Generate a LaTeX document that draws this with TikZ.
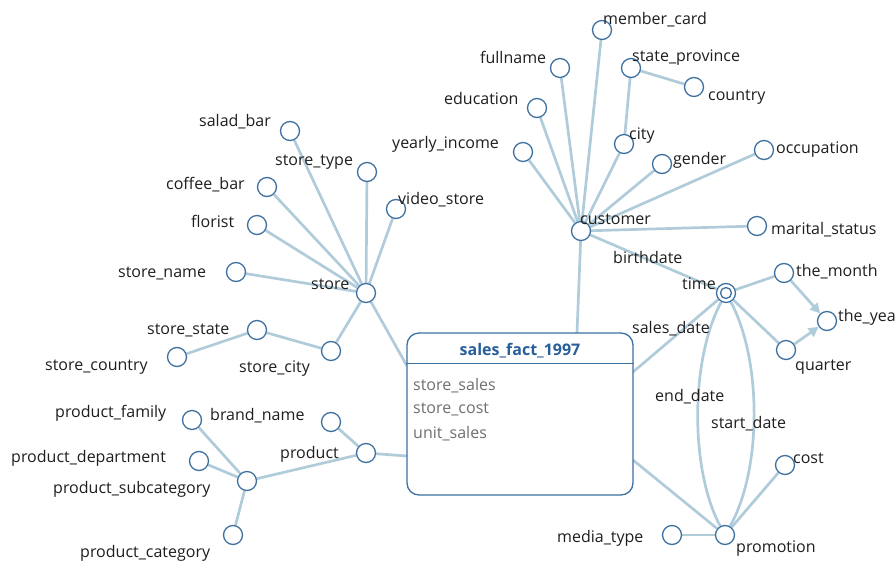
\documentclass[tikz,border=0pt]{standalone}
\usepackage{fontspec}
\setmainfont{Open Sans}
\usetikzlibrary{backgrounds,arrows.meta}

\definecolor{edgec}{RGB}{176,204,218}
\definecolor{nodec}{RGB}{62,112,160}
\definecolor{titlec}{RGB}{40,95,155}
\definecolor{attrc}{RGB}{112,112,112}
\definecolor{txtc}{RGB}{30,30,30}

\tikzset{
  attr/.style={circle, draw=nodec, line width=1.3pt, fill=white, minimum size=19pt, inner sep=0pt},
  lbl/.style={font=\fontsize{16}{18}\selectfont, text=txtc, inner sep=0pt, anchor=west, yshift=-1.5pt},
  fattr/.style={font=\fontsize{16}{18}\selectfont, text=attrc, inner sep=0pt, anchor=west, yshift=-1.5pt},
  link/.style={draw=edgec, line width=2.7pt},
  arrowlink/.style={link, -{Triangle[length=10pt,width=10pt]}},
}

\begin{document}
\begin{tikzpicture}[x=1pt,y=-1pt]
\useasboundingbox (0,0) rectangle (895,565);

% ---- fact table ----
\node[draw=nodec, rounded corners=12pt, line width=1.3pt, fill=white,
      minimum width=226pt, minimum height=162pt, inner sep=0pt] (fact) at (520,414) {};
\draw[nodec, line width=1.1pt] ([yshift=-31pt]fact.north west) -- ([yshift=-31pt]fact.north east);
\node[font=\bfseries\fontsize{16}{18}\selectfont, text=titlec, inner sep=0pt] (ftitle) at (520,351) {sales\_fact\_1997};
\node[fattr] (fa1) at (413,384) {store\_sales};
\node[fattr] (fa2) at (413,408) {store\_cost};
\node[fattr] (fa3) at (413,432) {unit\_sales};

\coordinate (fStore) at (407,366);
\coordinate (fProduct) at (407,456);
\coordinate (fCustomer) at (577,333);
\coordinate (fTime) at (633,372);
\coordinate (fPromo) at (633,460);

% ---- store dimension ----
\node[attr] (store) at (366,293) {};
\node[attr] (saladbar) at (290,131) {};
\node[attr] (storetype) at (367,172) {};
\node[attr] (coffeebar) at (267,187) {};
\node[attr] (videostore) at (396,209) {};
\node[attr] (florist) at (257,225) {};
\node[attr] (storename) at (236,272) {};
\node[attr] (storestate) at (257,330) {};
\node[attr] (storecity) at (331,351) {};
\node[attr] (storecountry) at (177,357) {};

\node[lbl] at (311,283) {store};
\node[lbl] at (199,120) {salad\_bar};
\node[lbl] at (275,161) {store\_type};
\node[lbl] at (166,183) {coffee\_bar};
\node[lbl] at (398,198) {video\_store};
\node[lbl] at (191,220) {florist};
\node[lbl] at (118,272) {store\_name};
\node[lbl] at (147,329) {store\_state};
\node[lbl] at (45,366) {store\_country};
\node[lbl] at (239,367) {store\_city};

% ---- product dimension ----
\node[attr] (product) at (366,453) {};
\node[attr] (brandname) at (331,422) {};
\node[attr] (psub) at (247,481) {};
\node[attr] (pfamily) at (192,420) {};
\node[attr] (pdept) at (199,461) {};
\node[attr] (pcat) at (233,535) {};

\node[lbl] at (280,453) {product};
\node[lbl] at (210,414) {brand\_name};
\node[lbl] at (55,412) {product\_family};
\node[lbl] at (11,457) {product\_department};
\node[lbl] at (53,488) {product\_subcategory};
\node[lbl] at (80,552) {product\_category};

% ---- customer dimension ----
\node[attr] (customer) at (581,231) {};
\node[attr] (membercard) at (602,30) {};
\node[attr] (fullname) at (560,68) {};
\node[attr] (education) at (537,108) {};
\node[attr] (income) at (523,152) {};
\node[attr] (stateprov) at (631,68) {};
\node[attr] (country) at (694,87) {};
\node[attr] (city) at (624,144) {};
\node[attr] (gender) at (662,164) {};
\node[attr] (occupation) at (764,150) {};
\node[attr] (marital) at (757,226) {};

\node[lbl] at (580,218) {customer};
\node[lbl] at (603,18) {member\_card};
\node[lbl] at (480,56) {fullname};
\node[lbl] at (444,97) {education};
\node[lbl] at (392,143) {yearly\_income};
\node[lbl] at (632,56) {state\_province};
\node[lbl] at (708,96) {country};
\node[lbl] at (629,134) {city};
\node[lbl] at (673,159) {gender};
\node[lbl] at (776,148) {occupation};
\node[lbl] at (771,228) {marital\_status};
\node[lbl] at (613,256) {birthdate};

% ---- time dimension ----
\node[attr] (time) at (726,293) {};
\node[circle, draw=nodec, line width=1.3pt, minimum size=11pt, inner sep=0pt] (timein) at (726,293) {};
\node[attr] (month) at (784,273) {};
\node[attr] (year) at (827,321) {};
\node[attr] (quarter) at (786,350) {};

\node[lbl] at (682,282) {time};
\node[lbl] at (796,270) {the\_month};
\node[lbl] at (838,316) {the\_year};
\node[lbl] at (795,366) {quarter};
\node[lbl] at (632,327) {sales\_date};
\node[lbl] at (655,395) {end\_date};
\node[lbl] at (711,422) {start\_date};

% ---- promotion dimension ----
\node[attr] (promotion) at (725,535) {};
\node[attr] (mediatype) at (672,535) {};
\node[attr] (cost) at (785,465) {};

\node[lbl] at (736,547) {promotion};
\node[lbl] at (557,537) {media\_type};
\node[lbl] at (793,457) {cost};

% ---- connectors ----
\begin{scope}[on background layer]
  \foreach \a in {saladbar,storetype,coffeebar,videostore,florist,storename,storecity}
    \draw[link] (store) -- (\a);
  \draw[link] (storecity) -- (storestate);
  \draw[link] (storestate) -- (storecountry);
  \draw[link] (store) -- (fStore);

  \draw[link] (product) -- (brandname);
  \draw[link] (product) -- (psub);
  \foreach \a in {pfamily,pdept,pcat}
    \draw[link] (psub) -- (\a);
  \draw[link] (product) -- (fProduct);

  \foreach \a in {membercard,fullname,education,income,city,gender,occupation,marital}
    \draw[link] (customer) -- (\a);
  \draw[link] (city) -- (stateprov);
  \draw[link] (stateprov) -- (country);
  \draw[link] (customer) -- (fCustomer);
  \draw[link] (customer) -- (time);

  \draw[link] (time) -- (month);
  \draw[link] (time) -- (quarter);
  \draw[arrowlink] (month) -- (year);
  \draw[arrowlink] (quarter) -- (year);
  \draw[link] (fTime) -- (time);

  \draw[link] (fPromo) -- (promotion);
  \draw[link] (time) .. controls (690,360) and (690,470) .. (promotion);
  \draw[link] (time) .. controls (762,360) and (762,470) .. (promotion);
  \draw[link] (promotion) -- (mediatype);
  \draw[link] (promotion) -- (cost);
\end{scope}
\end{tikzpicture}
\end{document}
